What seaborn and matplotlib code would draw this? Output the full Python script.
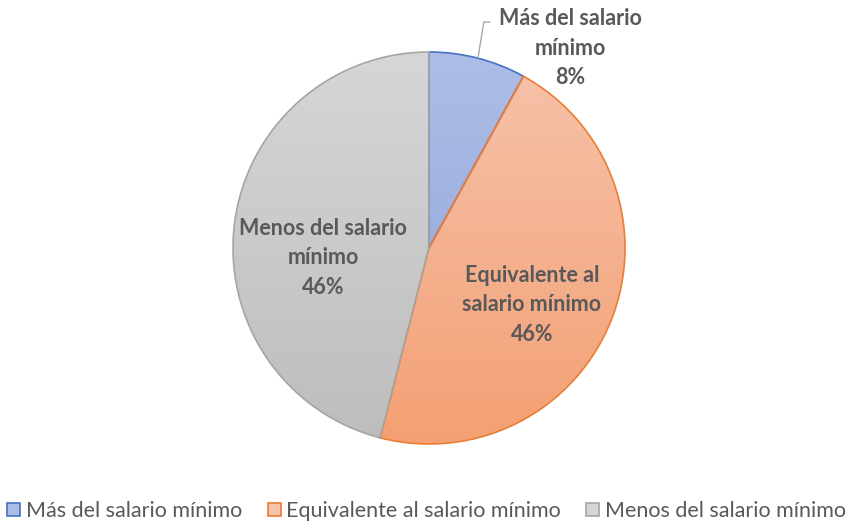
#Pie chart of salary categories with vertical gradient fills, drawn with seaborn styling
import numpy as np
import seaborn as sns
import matplotlib.pyplot as plt
from matplotlib.colors import LinearSegmentedColormap
from matplotlib.patches import Rectangle

categories = ['Más del salario mínimo', 'Equivalente al salario mínimo', 'Menos del salario mínimo']
shares = [8, 46, 46]
slice_labels = ['Más del salario\nmínimo', 'Equivalente al\nsalario mínimo', 'Menos del salario\nmínimo']

edge_colors = ['#4472c4', '#ed7d31', '#a5a5a5']
light_colors = ['#aebde6', '#f6c3ab', '#d6d6d6']
dark_colors = ['#8aa4d8', '#f4a074', '#bdbdbd']

sns.set_theme(style='white')
plt.rcParams['font.family'] = ['Lato', 'DejaVu Sans']

W, H = 853, 525
fig = plt.figure(figsize=(W / 100, H / 100), dpi=100)
cx, cy, r = 429, 248, 196
half = 220
ax = fig.add_axes([(cx - half) / W, (H - cy - half) / H, 2 * half / W, 2 * half / H])
lim = half / r

wedges, _ = ax.pie(shares, startangle=90, counterclock=False, radius=1,
                   colors=light_colors, wedgeprops=dict(linewidth=1.2))

#gradient fill clipped to each wedge, light at the top
grad = np.linspace(0, 1, 256).reshape(-1, 1)
for w, lc, dc, ec in zip(wedges, light_colors, dark_colors, edge_colors):
    w.set_edgecolor(ec)
    cmap = LinearSegmentedColormap.from_list('g', [lc, dc])
    im = ax.imshow(grad, cmap=cmap, extent=(-1, 1, -1, 1), origin='upper', aspect='auto', zorder=1)
    im.set_clip_path(w)
    w.set_facecolor('none')
    w.set_zorder(2)
ax.set_xlim(-lim, lim)
ax.set_ylim(-lim, lim)
ax.set_aspect('equal')
ax.axis('off')

txt = dict(ha='center', va='center', fontsize=15.5, fontweight='bold', color='#595959',
           linespacing=1.5, zorder=3)
ax.text(0.72, 1.02, slice_labels[0] + '\n%d%%' % shares[0], clip_on=False, **txt)
ax.text(0.525, -0.29, slice_labels[1] + '\n%d%%' % shares[1], **txt)
ax.text(-0.54, -0.05, slice_labels[2] + '\n%d%%' % shares[2], **txt)

#leader line for the small slice
ax.plot([0.25, 0.28, 0.31], [0.97, 1.153, 1.153], color='#a6a6a6', lw=1, clip_on=False, zorder=3)

handles = [Rectangle((0, 0), 1, 1, facecolor=lc, edgecolor=ec, lw=1.2)
           for lc, ec in zip(light_colors, edge_colors)]
fig.legend(handles, categories, loc='center', bbox_to_anchor=(0.5, (H - 511) / H), ncol=3,
           frameon=False, fontsize=15.5, labelcolor='#595959', handlelength=0.6, handleheight=0.6,
           handletextpad=0.25, columnspacing=1.2)

plt.savefig('out.png', dpi=100)
